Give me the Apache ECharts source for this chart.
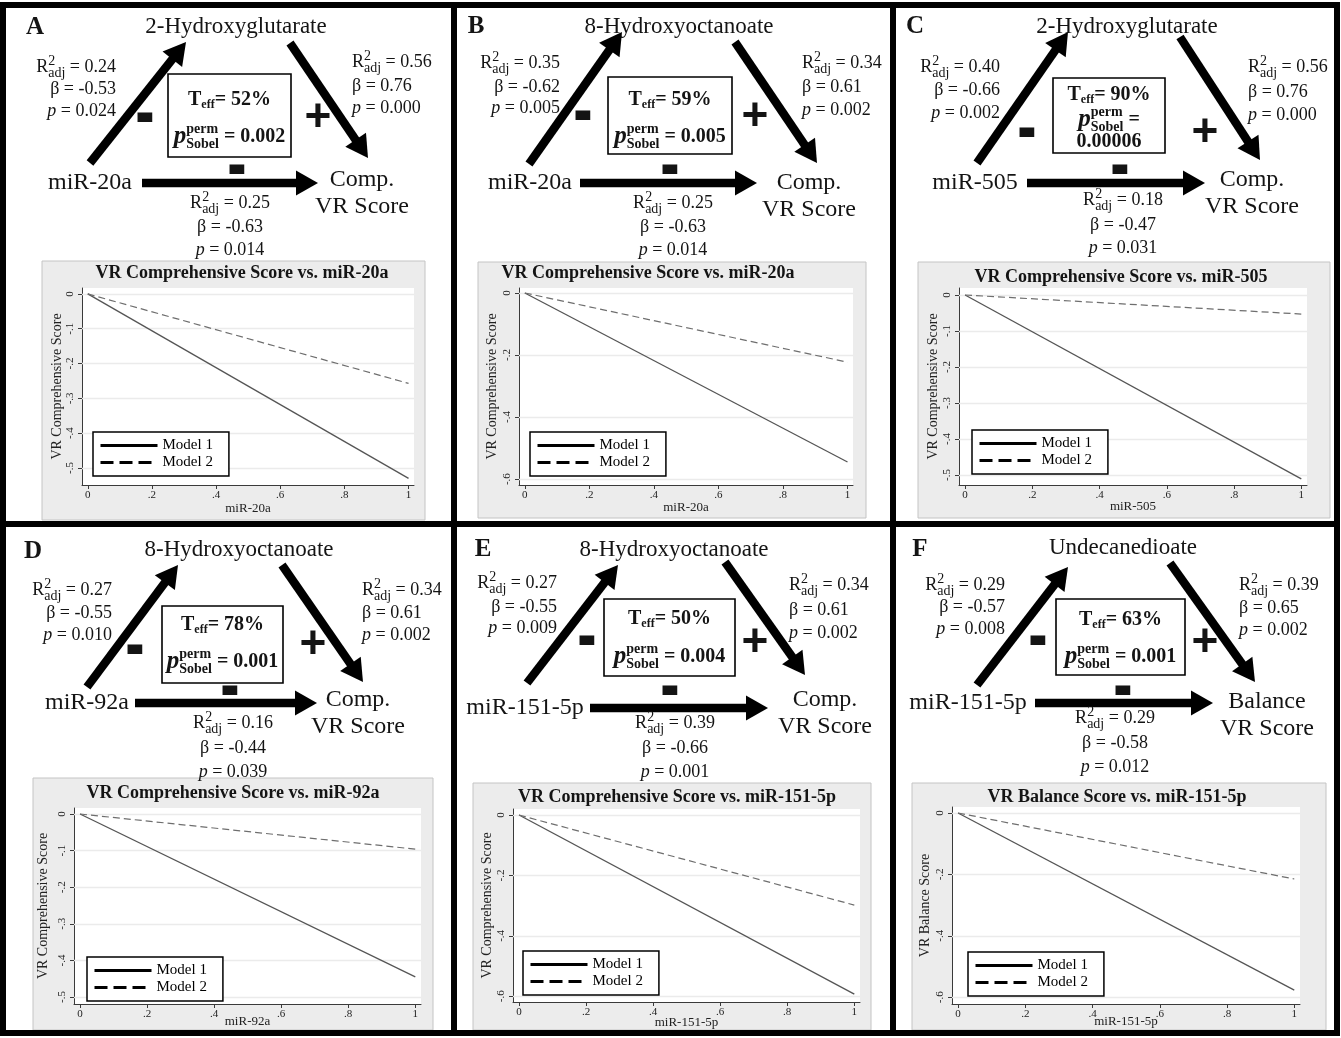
<!DOCTYPE html>
<html>
<head>
<meta charset="utf-8">
<script src="https://cdn.jsdelivr.net/npm/echarts@6/dist/echarts.min.js"></script>
<style>
  html, body { margin: 0; padding: 0; background: #fff; }
  #chart { width: 1341px; height: 1038px; }
</style>
</head>
<body>
<div id="chart"></div>
<script>
// ---------- data ----------
const panelLetters = ['A', 'B', 'C', 'D', 'E', 'F'];
const exposures = ['miR-20a', 'miR-20a', 'miR-505', 'miR-92a', 'miR-151-5p', 'miR-151-5p'];
const mediators = ['2-Hydroxyglutarate', '8-Hydroxyoctanoate', '2-Hydroxyglutarate',
                   '8-Hydroxyoctanoate', '8-Hydroxyoctanoate', 'Undecanedioate'];
const outcomeTop = ['Comp.', 'Comp.', 'Comp.', 'Comp.', 'Comp.', 'Balance'];
const outcomeBottom = ['VR Score', 'VR Score', 'VR Score', 'VR Score', 'VR Score', 'VR Score'];

// exposure -> mediator path
const aR2 = ['0.24', '0.35', '0.40', '0.27', '0.27', '0.29'];
const aBeta = ['-0.53', '-0.62', '-0.66', '-0.55', '-0.55', '-0.57'];
const aP = ['0.024', '0.005', '0.002', '0.010', '0.009', '0.008'];
// mediator -> outcome path
const bR2 = ['0.56', '0.34', '0.56', '0.34', '0.34', '0.39'];
const bBeta = ['0.76', '0.61', '0.76', '0.61', '0.61', '0.65'];
const bP = ['0.000', '0.002', '0.000', '0.002', '0.002', '0.002'];
// exposure -> outcome path
const cR2 = ['0.25', '0.25', '0.18', '0.16', '0.39', '0.29'];
const cBeta = ['-0.63', '-0.63', '-0.47', '-0.44', '-0.66', '-0.58'];
const cP = ['0.014', '0.014', '0.031', '0.039', '0.001', '0.012'];
// mediation summary
const tEff = ['52%', '59%', '90%', '78%', '50%', '63%'];
const pSobel = ['0.002', '0.005', '0.00006', '0.001', '0.004', '0.001'];

const chartTitles = ['VR Comprehensive Score vs. miR-20a', 'VR Comprehensive Score vs. miR-20a',
                     'VR Comprehensive Score vs. miR-505', 'VR Comprehensive Score vs. miR-92a',
                     'VR Comprehensive Score vs. miR-151-5p', 'VR Balance Score vs. miR-151-5p'];
const yAxisTitles = ['VR Comprehensive Score', 'VR Comprehensive Score', 'VR Comprehensive Score',
                     'VR Comprehensive Score', 'VR Comprehensive Score', 'VR Balance Score'];
const xAxisTitles = ['miR-20a', 'miR-20a', 'miR-505', 'miR-92a', 'miR-151-5p', 'miR-151-5p'];
const xTickValues = [0, 0.2, 0.4, 0.6, 0.8, 1];
const yTickValues = [
  [0, -0.1, -0.2, -0.3, -0.4, -0.5],
  [0, -0.2, -0.4, -0.6],
  [0, -0.1, -0.2, -0.3, -0.4, -0.5],
  [0, -0.1, -0.2, -0.3, -0.4, -0.5],
  [0, -0.2, -0.4, -0.6],
  [0, -0.2, -0.4, -0.6]
];
const legendNames = ['Model 1', 'Model 2'];
// predicted score at miR = 0 and miR = 1
const modelX = [0, 1];
const model1Y = [[0, -0.53], [0, -0.545], [0, -0.511], [0, -0.445], [0, -0.593], [0, -0.577]];
const model2Y = [[0, -0.257], [0, -0.223], [0, -0.053], [0, -0.096], [0, -0.298], [0, -0.215]];

// ---------- layout (pixels) ----------
const layout = [
  { letter: [35, 28], med: [236, 27], left: { x: 116, ys: [67, 89, 111] }, up: [90, 163, 186, 42], minusUp: [145, 120],
    box: [168, 74, 291, 157], boxYs: [100, 137], plus: [318, 118], down: [290, 43, 368, 158],
    right: { x: 352, ys: [62, 86, 108] }, expo: [90, 183], h: [142, 183, 318, 183], minusH: [237, 172],
    out: [362, 180, 207], bottom: { x: 230, ys: [203, 227, 250] },
    frame: [42, 261, 425, 520], title: [242, 273], grid: [82, 288, 414, 485], yRange: [-0.549, 0.017],
    legend: [93, 432], xGap: 17, yGap: 18 },
  { letter: [476, 27], med: [679, 27], left: { x: 560, ys: [63, 87, 108] }, up: [529, 164, 622, 32], minusUp: [583, 118],
    box: [608, 77, 732, 154], boxYs: [100, 137], plus: [755, 117], down: [735, 42, 817, 163],
    right: { x: 802, ys: [63, 87, 110] }, expo: [530, 183], h: [580, 183, 757, 183], minusH: [670, 172],
    out: [809, 183, 210], bottom: { x: 673, ys: [203, 227, 250] },
    frame: [478, 262, 866, 518], title: [648, 273], grid: [519, 288, 853, 485], yRange: [-0.619, 0.016],
    legend: [530, 432], xGap: 16, yGap: 20 },
  { letter: [915, 27], med: [1127, 27], left: { x: 1000, ys: [67, 90, 113] }, up: [977, 163, 1068, 32], minusUp: [1027, 135],
    box: [1053, 78, 1165, 153], boxYs: [95, 120, 142], plus: [1205, 133], down: [1180, 37, 1260, 160],
    right: { x: 1248, ys: [67, 92, 115] }, expo: [975, 183], h: [1027, 183, 1205, 183], minusH: [1120, 172],
    out: [1252, 180, 207], bottom: { x: 1123, ys: [200, 225, 248] },
    frame: [918, 262, 1330, 518], title: [1121, 277], grid: [959, 288, 1307, 485], yRange: [-0.528, 0.0194],
    legend: [972, 430], xGap: 15, yGap: 19 },
  { letter: [33, 552], med: [239, 550], left: { x: 112, ys: [590, 613, 635] }, up: [87, 687, 178, 565], minusUp: [135, 652],
    box: [162, 606, 283, 683], boxYs: [625, 662], plus: [313, 645], down: [282, 565, 363, 682],
    right: { x: 362, ys: [590, 613, 635] }, expo: [87, 703], h: [135, 703, 317, 703], minusH: [230, 693],
    out: [358, 700, 727], bottom: { x: 233, ys: [723, 748, 772] },
    frame: [33, 778, 433, 1030], title: [233, 793], grid: [74, 808, 421, 1004], yRange: [-0.519, 0.0164],
    legend: [87, 957], xGap: 11, yGap: 24 },
  { letter: [483, 550], med: [674, 550], left: { x: 557, ys: [583, 607, 628] }, up: [527, 683, 618, 565], minusUp: [587, 643],
    box: [604, 599, 735, 676], boxYs: [619, 657], plus: [755, 643], down: [725, 562, 805, 675],
    right: { x: 789, ys: [585, 610, 633] }, expo: [525, 708], h: [590, 708, 768, 708], minusH: [670, 693],
    out: [825, 700, 727], bottom: { x: 675, ys: [723, 748, 772] },
    frame: [473, 783, 871, 1030], title: [677, 797], grid: [513, 809, 860, 1002], yRange: [-0.619, 0.02],
    legend: [523, 951], xGap: 14, yGap: 19 },
  { letter: [920, 550], med: [1123, 548], left: { x: 1005, ys: [585, 607, 629] }, up: [977, 685, 1068, 567], minusUp: [1038, 643],
    box: [1056, 599, 1185, 675], boxYs: [620, 657], plus: [1205, 643], down: [1170, 563, 1255, 682],
    right: { x: 1239, ys: [585, 608, 630] }, expo: [968, 703], h: [1035, 703, 1213, 703], minusH: [1123, 693],
    out: [1267, 702, 729], bottom: { x: 1115, ys: [718, 743, 767] },
    frame: [912, 783, 1326, 1030], title: [1117, 797], grid: [952, 807, 1300, 1004], yRange: [-0.622, 0.0195],
    legend: [968, 952], xGap: 11, yGap: 20 }
];
const X_RANGE = [-0.018, 1.017];

// ---------- styles ----------
const SERIF = '"Liberation Serif","Times New Roman",serif';
const SANS = '"Liberation Sans",Arial,sans-serif';
const INK = '#141414';
const font = (size, weight, style) => `${style || 'normal'} ${weight || 'normal'} ${size}px ${SERIF}`;
const F_MED = font(23);
const F_NODE = font(24);
const F_STAT = font(18);
const F_STAT_I = font(18, 'normal', 'italic');
const F_SMALL = font(14);
const F_BOX = font(20, 'bold');
const F_BOX_SMALL = font(12, 'bold');
const F_BOX_SCRIPT = font(14, 'bold');
const F_BOX_P = font(25, 'bold', 'italic');

const measureCtx = document.createElement('canvas').getContext('2d');
function textWidth(s, f) { measureCtx.font = f; return measureCtx.measureText(s).width; }

function label(x, y, text, f, align, extra) {
  const a = align || 'left';
  return Object.assign({
    type: 'text', x: x, y: y, z: 20, silent: true,
    style: { text: text, font: f, fill: INK, align: a, textAlign: a, verticalAlign: 'middle', textVerticalAlign: 'middle' }
  }, extra || {});
}

// a row of text pieces; a piece may be a stacked superscript/subscript pair
function runs(x, y, parts, align) {
  const widths = parts.map(p => p.stack ? Math.max.apply(null, p.stack.map(s => textWidth(s.t, s.f))) : textWidth(p.t, p.f));
  const total = widths.reduce((s, w) => s + w, 0);
  let cx = align === 'right' ? x - total : align === 'center' ? x - total / 2 : x;
  const out = [];
  parts.forEach((p, i) => {
    (p.stack || [p]).forEach(s => out.push(label(cx, y + (s.dy || 0), s.t, s.f, 'left')));
    cx += widths[i];
  });
  return out;
}

function statBlock(x, ys, align, r2, beta, p) {
  return [].concat(
    runs(x, ys[0], [
      { t: 'R', f: F_STAT },
      { stack: [{ t: '2', f: F_SMALL, dy: -6 }, { t: 'adj', f: F_SMALL, dy: 6 }] },
      { t: ' = ' + r2, f: F_STAT }
    ], align),
    runs(x, ys[1], [{ t: 'β = ' + beta, f: F_STAT }], align),
    runs(x, ys[2], [{ t: 'p', f: F_STAT_I }, { t: ' = ' + p, f: F_STAT }], align)
  );
}

function arrow(x1, y1, x2, y2) {
  const dx = x2 - x1, dy = y2 - y1, len = Math.hypot(dx, dy);
  const ux = dx / len, uy = dy / len, px = -uy, py = ux;
  const headLen = 22, headHalf = 12.5;
  const bx = x2 - ux * headLen, by = y2 - uy * headLen;
  return [
    { type: 'line', z: 15, silent: true, shape: { x1: x1, y1: y1, x2: bx + ux * 3, y2: by + uy * 3 },
      style: { stroke: '#000', lineWidth: 8.5 } },
    { type: 'polygon', z: 15, silent: true,
      shape: { points: [[x2, y2], [bx + px * headHalf, by + py * headHalf], [bx - px * headHalf, by - py * headHalf]] },
      style: { fill: '#000' } }
  ];
}

function minusSign(x, y) {
  return label(x, y - 4, '-', `bold 40px ${SANS}`, 'center', { scaleX: 1.45, scaleY: 2.0 });
}

const tickFmt = v => {
  const s = String(+(+v).toFixed(2));
  return s.replace(/^(-?)0\./, '$1.');
};

// ---------- build ----------
const elements = [];

// panel frame
const BW = 6;
elements.push({ type: 'rect', z: 30, silent: true, shape: { x: 3, y: 5, width: 1334, height: 1028 },
  style: { fill: 'none', stroke: '#000', lineWidth: BW } });
[454, 893].forEach(x => elements.push({ type: 'line', z: 30, silent: true,
  shape: { x1: x, y1: 5, x2: x, y2: 1033 }, style: { stroke: '#000', lineWidth: BW } }));
elements.push({ type: 'line', z: 30, silent: true, shape: { x1: 3, y1: 524, x2: 1337, y2: 524 },
  style: { stroke: '#000', lineWidth: BW } });

const grids = [], xAxes = [], yAxes = [], series = [], legends = [];

layout.forEach((L, i) => {
  // ---- mediation diagram ----
  elements.push(label(L.letter[0], L.letter[1], panelLetters[i], font(25, 'bold'), 'center'));
  elements.push(label(L.med[0], L.med[1], mediators[i], F_MED, 'center'));
  elements.push(label(L.expo[0], L.expo[1], exposures[i], F_NODE, 'center'));
  elements.push(label(L.out[0], L.out[1], outcomeTop[i], F_NODE, 'center'));
  elements.push(label(L.out[0], L.out[2], outcomeBottom[i], F_NODE, 'center'));

  elements.push.apply(elements, arrow.apply(null, L.up));
  elements.push.apply(elements, arrow.apply(null, L.down));
  elements.push.apply(elements, arrow.apply(null, L.h));
  elements.push(minusSign(L.minusUp[0], L.minusUp[1]));
  elements.push(minusSign(L.minusH[0], L.minusH[1]));
  elements.push(label(L.plus[0], L.plus[1], '+', `bold 46px ${SANS}`, 'center'));

  elements.push.apply(elements, statBlock(L.left.x, L.left.ys, 'right', aR2[i], aBeta[i], aP[i]));
  elements.push.apply(elements, statBlock(L.right.x, L.right.ys, 'left', bR2[i], bBeta[i], bP[i]));
  elements.push.apply(elements, statBlock(L.bottom.x, L.bottom.ys, 'center', cR2[i], cBeta[i], cP[i]));

  const [bx0, by0, bx1, by1] = L.box;
  elements.push({ type: 'rect', z: 15, silent: true, shape: { x: bx0, y: by0, width: bx1 - bx0, height: by1 - by0 },
    style: { fill: '#fff', stroke: '#000', lineWidth: 1.6 } });
  const bcx = (bx0 + bx1) / 2;
  elements.push.apply(elements, runs(bcx, L.boxYs[0], [
    { t: 'T', f: F_BOX }, { t: 'eff', f: F_BOX_SMALL, dy: 5 }, { t: '= ' + tEff[i], f: F_BOX }
  ], 'center'));
  const pHead = [{ t: 'p', f: F_BOX_P },
    { stack: [{ t: 'perm', f: F_BOX_SCRIPT, dy: -8 }, { t: 'Sobel', f: F_BOX_SCRIPT, dy: 7 }] }];
  if (L.boxYs.length === 3) {
    elements.push.apply(elements, runs(bcx, L.boxYs[1], pHead.concat([{ t: ' =', f: F_BOX }]), 'center'));
    elements.push(label(bcx, L.boxYs[2], pSobel[i], F_BOX, 'center'));
  } else {
    elements.push.apply(elements, runs(bcx, L.boxYs[1], pHead.concat([{ t: ' = ' + pSobel[i], f: F_BOX }]), 'center'));
  }

  // ---- fitted-line chart ----
  const [fx0, fy0, fx1, fy1] = L.frame;
  elements.push({ type: 'rect', z: -10, silent: true, shape: { x: fx0, y: fy0, width: fx1 - fx0, height: fy1 - fy0 },
    style: { fill: '#ececec', stroke: '#c4c4c4', lineWidth: 1 } });
  elements.push(label(L.title[0], L.title[1], chartTitles[i], font(18, 'bold'), 'center'));

  const [gx0, gy0, gx1, gy1] = L.grid;
  grids.push({ left: gx0, top: gy0, width: gx1 - gx0, height: gy1 - gy0, show: true,
    backgroundColor: '#fff', borderWidth: 0 });

  const axisLineStyle = { color: '#3a3a3a', width: 1 };
  xAxes.push({
    gridIndex: i, type: 'value', min: X_RANGE[0], max: X_RANGE[1],
    name: xAxisTitles[i], nameLocation: 'middle', nameGap: L.xGap, nameMoveOverlap: false,
    nameTextStyle: { fontFamily: SERIF, fontSize: 13, color: '#222' },
    axisLine: { show: true, onZero: false, lineStyle: axisLineStyle },
    axisTick: { show: true, customValues: xTickValues, length: 4, lineStyle: axisLineStyle },
    axisLabel: { customValues: xTickValues, formatter: tickFmt, fontFamily: SERIF, fontSize: 11, color: '#222', margin: 5 },
    splitLine: { show: false }
  });
  yAxes.push({
    gridIndex: i, type: 'value', min: L.yRange[0], max: L.yRange[1],
    name: yAxisTitles[i], nameLocation: 'middle', nameGap: L.yGap, nameRotate: 90, nameMoveOverlap: false,
    nameTextStyle: { fontFamily: SERIF, fontSize: 14, color: '#222' },
    axisLine: { show: true, onZero: false, lineStyle: axisLineStyle },
    axisTick: { show: true, customValues: yTickValues[i], length: 4, lineStyle: axisLineStyle },
    axisLabel: { customValues: yTickValues[i], formatter: tickFmt, rotate: 90, fontFamily: SERIF, fontSize: 11, color: '#222', margin: 6 },
    splitLine: { show: false }
  });

  series.push({
    type: 'line', name: legendNames[0], xAxisIndex: i, yAxisIndex: i, silent: true,
    data: modelX.map((x, k) => [x, model1Y[i][k]]),
    symbol: 'none', lineStyle: { color: '#555', width: 1.3, type: 'solid' }, z: 3,
    markLine: {
      silent: true, symbol: ['none', 'none'], label: { show: false }, animation: false, z: 1,
      lineStyle: { color: '#ebebeb', width: 1.4, type: 'solid' },
      data: yTickValues[i].map(v => ({ yAxis: v }))
    }
  });
  series.push({
    type: 'line', name: legendNames[1], xAxisIndex: i, yAxisIndex: i, silent: true,
    data: modelX.map((x, k) => [x, model2Y[i][k]]),
    symbol: 'none', lineStyle: { color: '#6e6e6e', width: 1.2, type: [7, 4] }, z: 3
  });

  legends.push({
    left: L.legend[0], top: L.legend[1], orient: 'vertical', selectedMode: false, z: 12,
    data: [{ name: legendNames[0] }, { name: legendNames[1], lineStyle: { type: [13, 6] } }],
    itemWidth: 57, itemHeight: 15, itemGap: 2, padding: [6, 16, 6, 6],
    borderColor: '#000', borderWidth: 1.5, backgroundColor: '#fff', borderRadius: 0,
    lineStyle: { width: 3, color: '#000' },
    itemStyle: { color: 'rgba(0,0,0,0)', borderColor: 'rgba(0,0,0,0)', borderWidth: 0, opacity: 0 },
    textStyle: { fontFamily: SERIF, fontSize: 15, color: '#000' }
  });
});

const chart = echarts.init(document.getElementById('chart'), null, { renderer: 'canvas' });
chart.setOption({
  animation: false,
  backgroundColor: '#fff',
  grid: grids,
  xAxis: xAxes,
  yAxis: yAxes,
  legend: legends,
  series: series,
  graphic: { elements: elements }
});
</script>
</body>
</html>
